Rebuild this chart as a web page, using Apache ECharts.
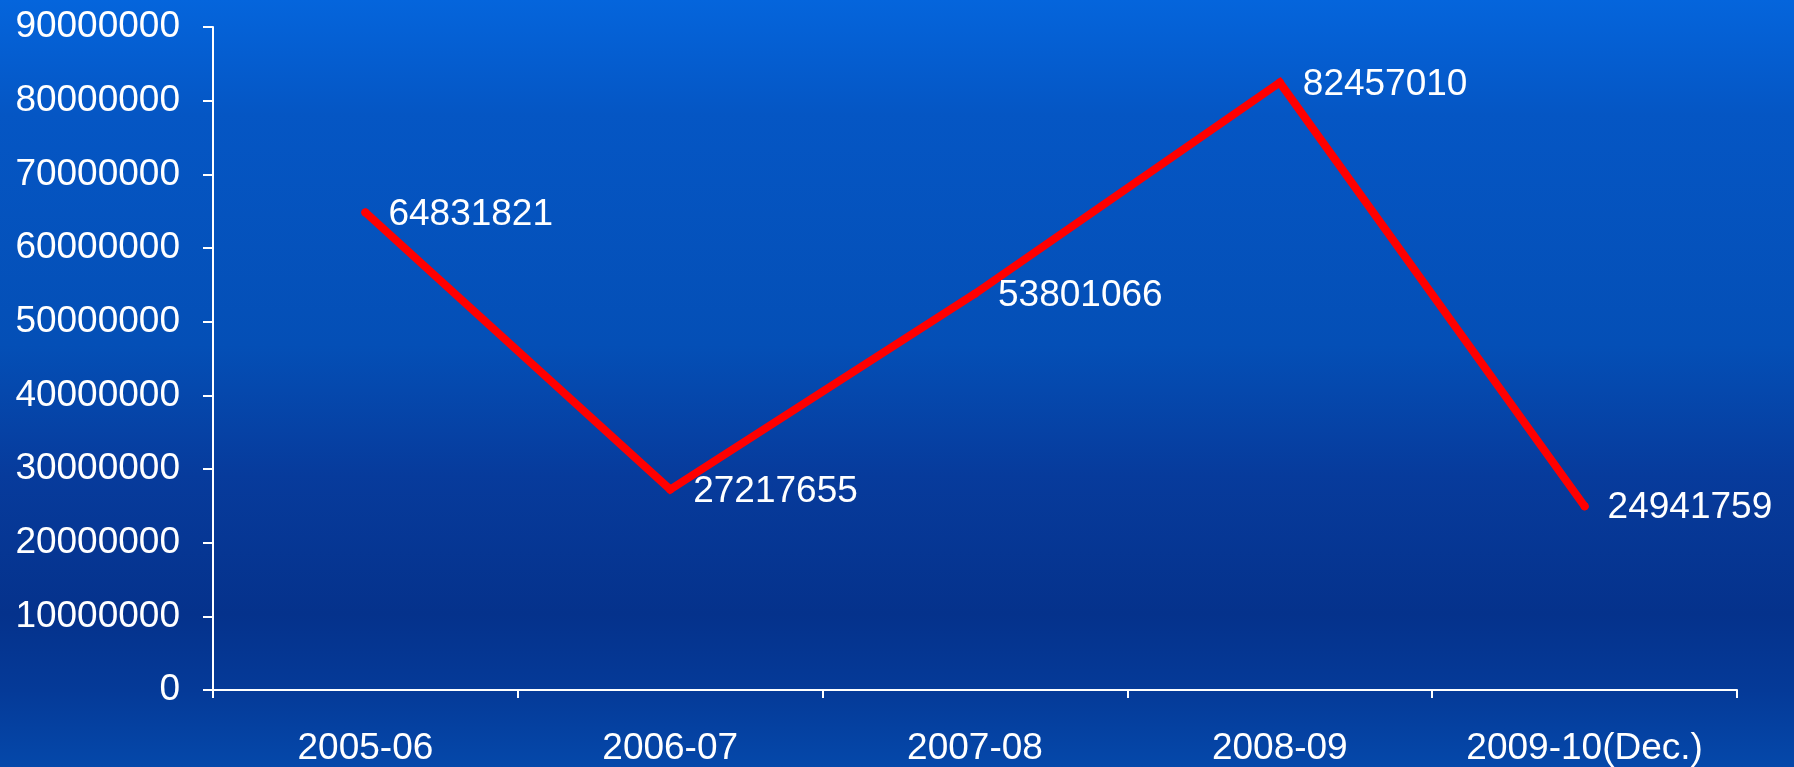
<!DOCTYPE html>
<html>
<head>
<meta charset="utf-8">
<title>chart</title>
<script src="https://cdn.jsdelivr.net/npm/echarts@6/dist/echarts.min.js"></script>
<style>
  html, body { margin: 0; padding: 0; }
  #chart { width: 1794px; height: 767px; }
</style>
</head>
<body>
<div id="chart"></div>
<script>
// periods on the x axis
var periods = ['2005-06', '2006-07', '2007-08', '2008-09', '2009-10(Dec.)'];
// values (same as the data labels)
var totals = [64831821, 27217655, 53801066, 82457010, 24941759];
// y axis range
var yMin = 0;
var yMax = 90000000;
var yStep = 10000000;

var font = '"Liberation Sans", Arial, sans-serif';

var myChart = echarts.init(document.getElementById('chart'));

var option = {
    backgroundColor: new echarts.graphic.LinearGradient(0, 0, 0, 1, [
        {offset: 0, color: '#0565dc'},
        {offset: 0.15, color: '#0556c4'},
        {offset: 0.45, color: '#044fb6'},
        {offset: 0.62, color: '#073b9c'},
        {offset: 0.8, color: '#05328c'},
        {offset: 0.9, color: '#053a98'},
        {offset: 1, color: '#0548aa'}
    ]),
    animation: false,
    grid: {
        left: 213,
        right: 57,
        top: 27,
        bottom: 77,
        containLabel: false,
        outerBoundsMode: 'none'
    },
    xAxis: {
        type: 'category',
        data: periods,
        boundaryGap: true,
        axisLine: {show: true, lineStyle: {color: '#ffffff', width: 2}},
        axisTick: {show: true, length: 8, interval: 0, lineStyle: {color: '#ffffff', width: 2}},
        axisLabel: {
            color: '#ffffff',
            fontSize: 37,
            fontFamily: font,
            interval: 0,
            hideOverlap: false,
            margin: 40
        },
        splitLine: {show: false}
    },
    yAxis: {
        type: 'value',
        min: yMin,
        max: yMax,
        interval: yStep,
        axisLine: {show: true, lineStyle: {color: '#ffffff', width: 2}},
        axisTick: {show: true, length: 10, lineStyle: {color: '#ffffff', width: 2}},
        axisLabel: {
            color: '#ffffff',
            fontSize: 37,
            fontFamily: font,
            margin: 33,
            formatter: function (v) { return String(v); }
        },
        splitLine: {show: false}
    },
    series: [
        {
            type: 'line',
            data: totals,
            symbol: 'circle',
            symbolSize: 8,
            showSymbol: true,
            itemStyle: {color: '#ff0000'},
            lineStyle: {color: '#ff0000', width: 8, cap: 'round', join: 'miter'},
            label: {
                show: true,
                position: 'right',
                distance: 19,
                offset: [0, 2],
                color: '#ffffff',
                fontSize: 37,
                fontFamily: font
            }
        }
    ]
};

myChart.setOption(option);
</script>
</body>
</html>
